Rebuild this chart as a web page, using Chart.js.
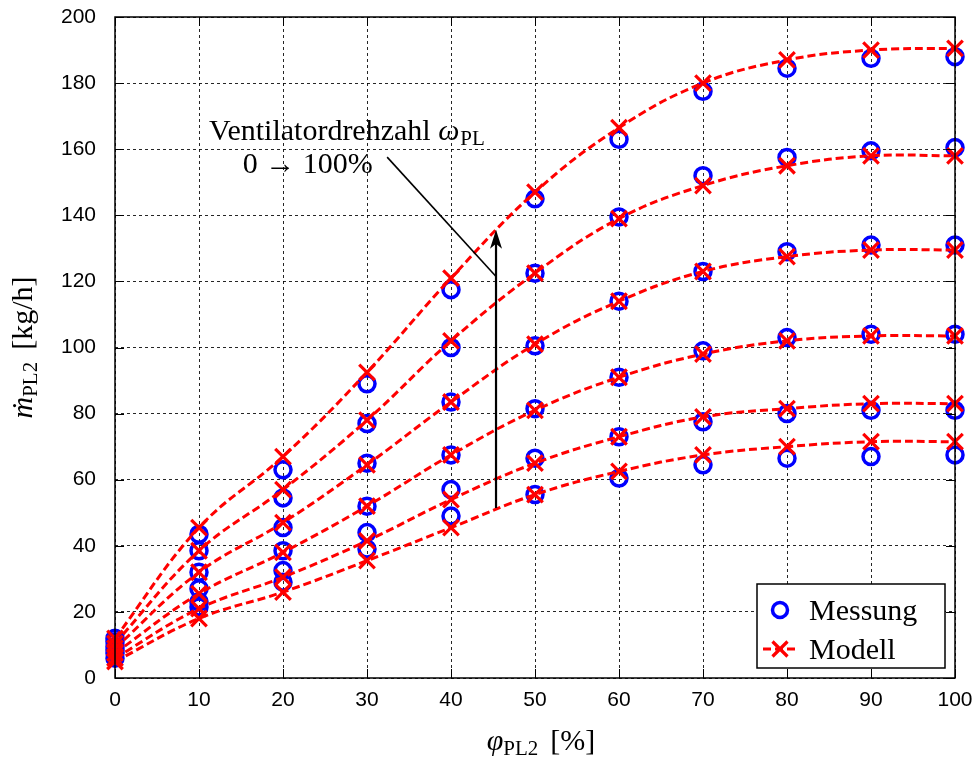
<!DOCTYPE html>
<html><head><meta charset="utf-8">
<script src="https://cdn.jsdelivr.net/npm/chart.js@4/dist/chart.umd.min.js"></script>
<style>html,body{margin:0;padding:0;background:#fff}canvas{display:block}</style>
</head><body>
<canvas id="c" width="975" height="760"></canvas>
<script>
// x positions (valve opening in %)
const xValues = [0, 10, 20, 30, 40, 50, 60, 70, 80, 90, 100];
const xTicks = [0, 10, 20, 30, 40, 50, 60, 70, 80, 90, 100];
const yTicks = [0, 20, 40, 60, 80, 100, 120, 140, 160, 180, 200];

// Messung (measurement), fan speed level 1 (lowest) .. 6 (highest)
const mess1 = [6, 21.5, 29, 39, 49, 55.5, 60.5, 64.5, 66.5, 67, 67.5];
const mess2 = [7.5, 23, 32.5, 44, 57, 66.5, 73, 77.5, 80, 81, 81];
const mess3 = [8.5, 27, 38.5, 52, 67.5, 81.5, 91, 99, 103, 104, 104];
const mess4 = [9.5, 32, 45.5, 65, 83.5, 100.5, 114, 123, 129, 131, 131];
const mess5 = [11, 38.5, 54.5, 77, 100, 122.5, 139.5, 152, 157.5, 159.5, 160.5];
const mess6 = [12, 43.5, 63, 89, 117.5, 145, 163, 177.5, 184.5, 187.5, 188];

// Modell (model)
const mod1 = [5, 18, 26, 35.5, 45.5, 55.5, 62.5, 67.5, 70, 71.5, 71.5];
const mod2 = [6, 21, 30.5, 41.5, 54, 65, 73, 79, 81.5, 83, 83];
const mod3 = [7.5, 25.5, 38, 52, 67.5, 81, 91, 98, 102, 103.5, 103.5];
const mod4 = [9, 32, 47, 64.5, 83.5, 101, 114, 123, 127.5, 129.5, 129.5];
const mod5 = [10.5, 38.5, 57, 78, 102, 122.5, 139, 149, 155, 158, 158];
const mod6 = [12, 45.5, 67, 92.5, 121, 147, 166.5, 180, 187, 190, 190.5];

const legendLabels = ['Messung', 'Modell'];
const annotLine1 = 'Ventilatordrehzahl ';
const annotLine2 = '0 \u2192 100%';

const SERIF = '"Liberation Serif", "DejaVu Serif", serif';
const SANS = '"Liberation Sans", Arial, sans-serif';
const BLUE = '#0000ff';
const RED = '#ff0000';
const FS = 30;

const messSeries = [mess1, mess2, mess3, mess4, mess5, mess6];
const modSeries = [mod1, mod2, mod3, mod4, mod5, mod6];
const pts = ys => xValues.map((x, i) => ({x: x, y: ys[i]}));

const datasets = [];
messSeries.forEach(ys => datasets.push({
  label: legendLabels[0], data: pts(ys), showLine: false,
  pointStyle: 'circle', pointRadius: 8, pointBorderWidth: 3.5,
  pointBorderColor: BLUE, pointBackgroundColor: 'rgba(0,0,0,0)',
  order: 2, clip: false
}));
modSeries.forEach(ys => datasets.push({
  label: legendLabels[1], data: pts(ys), showLine: true, tension: 0.4,
  borderColor: RED, borderWidth: 3, borderDash: [8, 4],
  pointStyle: 'crossRot', pointRadius: 11, pointBorderWidth: 3.2,
  pointBorderColor: RED, pointBackgroundColor: RED,
  order: 1, clip: false
}));

function drawRich(ctx, x, y, parts, align) {
  let w = 0;
  parts.forEach(p => { ctx.font = p.font; p.w = ctx.measureText(p.t).width; w += p.w + (p.gap || 0); });
  let cx = align === 'center' ? x - w / 2 : x;
  parts.forEach(p => {
    ctx.font = p.font;
    ctx.textAlign = 'left';
    ctx.textBaseline = 'alphabetic';
    ctx.fillText(p.t, cx, y + (p.dy || 0));
    cx += p.w + (p.gap || 0);
  });
}

const overlay = {
  id: 'overlay',
  afterDatasetsDraw(chart) {
    const ctx = chart.ctx;
    const a = chart.chartArea;
    const xs = chart.scales.x, ys = chart.scales.y;
    ctx.save();
    // inward ticks
    ctx.strokeStyle = '#000'; ctx.lineWidth = 1; ctx.setLineDash([]);
    xTicks.forEach(v => {
      const px = Math.round(xs.getPixelForValue(v)) + 0.5;
      ctx.beginPath(); ctx.moveTo(px, a.bottom); ctx.lineTo(px, a.bottom - 9);
      ctx.moveTo(px, a.top); ctx.lineTo(px, a.top + 9); ctx.stroke();
    });
    yTicks.forEach(v => {
      const py = Math.round(ys.getPixelForValue(v)) + 0.5;
      ctx.beginPath(); ctx.moveTo(a.left, py); ctx.lineTo(a.left + 9, py);
      ctx.moveTo(a.right, py); ctx.lineTo(a.right - 9, py); ctx.stroke();
    });
    // box
    ctx.lineWidth = 1.5;
    ctx.strokeRect(a.left, a.top, a.right - a.left, a.bottom - a.top);

    // annotation: pointer line
    ctx.lineWidth = 1.6;
    ctx.beginPath();
    ctx.moveTo(xs.getPixelForValue(32.4), ys.getPixelForValue(157.6));
    ctx.lineTo(xs.getPixelForValue(45.36), ys.getPixelForValue(121.5));
    ctx.stroke();
    // arrow
    const ax = xs.getPixelForValue(45.36);
    const yb = ys.getPixelForValue(51.4), yt = ys.getPixelForValue(135.6);
    ctx.lineWidth = 2.2;
    ctx.beginPath(); ctx.moveTo(ax, yb); ctx.lineTo(ax, yt + 12); ctx.stroke();
    ctx.fillStyle = '#000';
    ctx.beginPath();
    ctx.moveTo(ax, yt);
    ctx.lineTo(ax + 6, yt + 19);
    ctx.lineTo(ax, yt + 14);
    ctx.lineTo(ax - 6, yt + 19);
    ctx.closePath(); ctx.fill();

    // annotation text
    ctx.fillStyle = '#000';
    drawRich(ctx, xs.getPixelForValue(11.2), ys.getPixelForValue(162.8), [
      {t: annotLine1, font: FS + 'px ' + SERIF},
      {t: '\u03c9', font: 'italic ' + FS + 'px ' + SERIF, gap: 1},
      {t: 'PL', font: '21px ' + SERIF, dy: 5}
    ], 'left');
    drawRich(ctx, xs.getPixelForValue(15.2), ys.getPixelForValue(152.8), [
      {t: annotLine2, font: FS + 'px ' + SERIF}
    ], 'left');

    // legend
    const lx2 = a.right - 10, ly2 = a.bottom - 10, lx1 = lx2 - 188, ly1 = ly2 - 84;
    ctx.fillStyle = '#fff';
    ctx.fillRect(lx1, ly1, lx2 - lx1, ly2 - ly1);
    ctx.strokeStyle = '#000'; ctx.lineWidth = 1.5;
    ctx.strokeRect(lx1, ly1, lx2 - lx1, ly2 - ly1);
    const mx = lx1 + 23, r1 = ly1 + 26, r2 = ly1 + 65;
    ctx.strokeStyle = BLUE; ctx.lineWidth = 3.5;
    ctx.beginPath(); ctx.arc(mx, r1, 7.5, 0, Math.PI * 2); ctx.stroke();
    ctx.strokeStyle = RED; ctx.lineWidth = 3; ctx.setLineDash([8, 4]);
    ctx.beginPath(); ctx.moveTo(mx - 17, r2); ctx.lineTo(mx + 17, r2); ctx.stroke();
    ctx.setLineDash([]); ctx.lineWidth = 3.2;
    const d = 7.5;
    ctx.beginPath(); ctx.moveTo(mx - d, r2 - d); ctx.lineTo(mx + d, r2 + d);
    ctx.moveTo(mx + d, r2 - d); ctx.lineTo(mx - d, r2 + d); ctx.stroke();
    ctx.fillStyle = '#000';
    ctx.font = FS + 'px ' + SERIF; ctx.textAlign = 'left'; ctx.textBaseline = 'alphabetic';
    ctx.fillText(legendLabels[0], lx1 + 52, r1 + 10);
    ctx.fillText(legendLabels[1], lx1 + 52, r2 + 10);

    // axis titles
    drawRich(ctx, (a.left + a.right) / 2 + 6, 750, [
      {t: '\u03c6', font: 'italic ' + FS + 'px ' + SERIF},
      {t: 'PL2', font: '21px ' + SERIF, dy: 5, gap: 12},
      {t: '[%]', font: FS + 'px ' + SERIF}
    ], 'center');
    ctx.save();
    ctx.translate(32, (a.top + a.bottom) / 2);
    ctx.rotate(-Math.PI / 2);
    drawRich(ctx, 0, 0, [
      {t: 'm\u0307', font: 'italic ' + FS + 'px ' + SERIF},
      {t: 'PL2', font: '21px ' + SERIF, dy: 5, gap: 12},
      {t: '[kg/h]', font: FS + 'px ' + SERIF}
    ], 'center');
    ctx.restore();
    ctx.restore();
  }
};

new Chart(document.getElementById('c'), {
  type: 'scatter',
  data: {datasets: datasets},
  options: {
    responsive: false, animation: false, devicePixelRatio: 1,
    layout: {padding: {left: 0, right: 20, top: 17, bottom: 0}},
    plugins: {legend: {display: false}, tooltip: {enabled: false}},
    scales: {
      x: {
        type: 'linear', min: 0, max: 100,
        afterBuildTicks: s => { s.ticks = xTicks.map(v => ({value: v})); },
        afterFit: s => { s.height = 82; s.paddingLeft = 0; s.paddingRight = 0; },
        ticks: {color: '#000', font: {family: SANS, size: 21}, padding: 10, maxRotation: 0},
        grid: {color: 'rgba(0,0,0,0.85)', lineWidth: 1, drawTicks: false},
        border: {display: false, dash: [3, 3]}
      },
      y: {
        type: 'linear', min: 0, max: 200,
        afterBuildTicks: s => { s.ticks = yTicks.map(v => ({value: v})); },
        afterFit: s => { s.width = 115; s.paddingTop = 0; s.paddingBottom = 0; },
        ticks: {color: '#000', font: {family: SANS, size: 21}, padding: 19},
        grid: {color: 'rgba(0,0,0,0.85)', lineWidth: 1, drawTicks: false},
        border: {display: false, dash: [3, 3]}
      }
    }
  },
  plugins: [overlay]
});
</script>
</body></html>
